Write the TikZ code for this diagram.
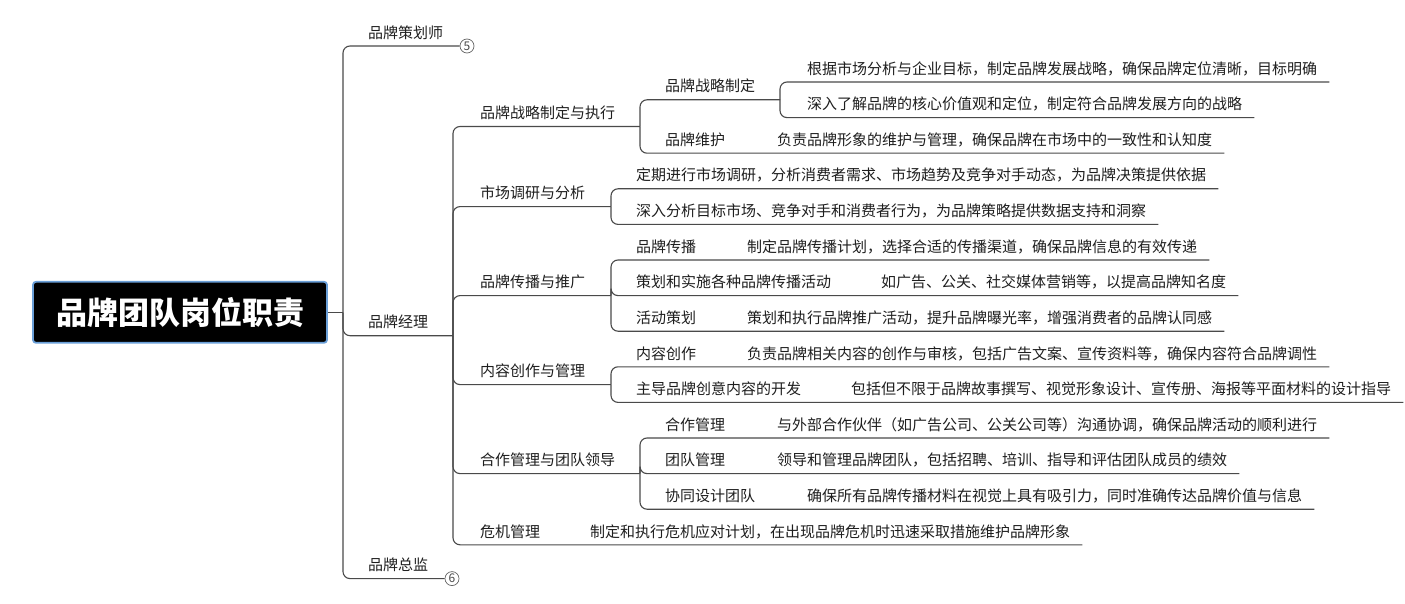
\documentclass[tikz,border=0pt]{standalone}
\usepackage{fontspec}
\setmainfont{Noto Sans CJK SC}
\definecolor{linec}{HTML}{4A4A4A}
\definecolor{txtc}{HTML}{1E1E1E}
\definecolor{rootb}{HTML}{6A9FD8}
\begin{document}
\begin{tikzpicture}[x=1pt,y=-1pt,
  topic/.style={anchor=south west, inner xsep=0pt, inner ysep=7.6pt, text depth=0pt,
    font=\fontsize{15}{18}\selectfont, text=txtc},
  br/.style={draw=linec, line width=1.1pt, rounded corners=7pt},
  numc/.style={circle, draw=linec!85, line width=0.7pt, minimum size=14pt, inner sep=0pt,
    font=\fontsize{12}{12}\selectfont, text=linec},
  rootbox/.style={fill=black, draw=rootb, line width=1.8pt, rounded corners=3pt,
    minimum width=294pt, minimum height=61pt, inner sep=0pt, text=white,
    font=\fontsize{31}{36}\selectfont\bfseries}]
\useasboundingbox (0,0) rectangle (1405,604);

% root
\node[rootbox] (R) at (180,312.3) {品牌团队岗位职责};

% junctions
\coordinate (j1) at (343,312.3);
\coordinate (j2) at (453,335.7);
\coordinate (j3) at (640,126.5);
\coordinate (j4) at (611,206.6);
\coordinate (j5) at (611,295.6);
\coordinate (j6) at (611,384.6);
\coordinate (j7) at (640,473.6);
\coordinate (j8) at (780,99.8);

% level 2
\node[topic] (A1) at (368,46) {品牌策划师};
\node[topic] (A2) at (368,335.7) {品牌经理};
\node[topic] (A3) at (368,578.6) {品牌总监};
\node[numc] (N5) at (467,46) {5};
\node[numc] (N6) at (452,578.6) {6};

% level 3
\node[topic] (B1) at (480,126.5) {品牌战略制定与执行};
\node[topic] (B2) at (480,206.6) {市场调研与分析};
\node[topic] (B3) at (480,295.6) {品牌传播与推广};
\node[topic] (B4) at (480,384.6) {内容创作与管理};
\node[topic] (B5) at (480,473.6) {合作管理与团队领导};
\node[topic] (B6) at (480,544.8) {危机管理};
\node[topic] (D12) at (590,544.8) {制定和执行危机应对计划，在出现品牌危机时迅速采取措施维护品牌形象};

% level 4
\node[topic] (C1) at (665,99.8) {品牌战略制定};
\node[topic] (D1) at (807,82) {根据市场分析与企业目标，制定品牌发展战略，确保品牌定位清晰，目标明确};
\node[topic] (D2) at (807,117.6) {深入了解品牌的核心价值观和定位，制定符合品牌发展方向的战略};
\node[topic] (C2) at (665,153.2) {品牌维护};
\node[topic] (D3) at (777,153.2) {负责品牌形象的维护与管理，确保品牌在市场中的一致性和认知度};

\node[topic] (C3) at (636,188.8) {定期进行市场调研，分析消费者需求、市场趋势及竞争对手动态，为品牌决策提供依据};
\node[topic] (C4) at (636,224.4) {深入分析目标市场、竞争对手和消费者行为，为品牌策略提供数据支持和洞察};

\node[topic] (C5) at (636,260) {品牌传播};
\node[topic] (D4) at (747,260) {制定品牌传播计划，选择合适的传播渠道，确保品牌信息的有效传递};
\node[topic] (C6) at (636,295.6) {策划和实施各种品牌传播活动};
\node[topic] (D5) at (881,295.6) {如广告、公关、社交媒体营销等，以提高品牌知名度};
\node[topic] (C7) at (636,331.2) {活动策划};
\node[topic] (D6) at (747,331.2) {策划和执行品牌推广活动，提升品牌曝光率，增强消费者的品牌认同感};

\node[topic] (C8) at (636,366.8) {内容创作};
\node[topic] (D7) at (747,366.8) {负责品牌相关内容的创作与审核，包括广告文案、宣传资料等，确保内容符合品牌调性};
\node[topic] (C9) at (636,402.4) {主导品牌创意内容的开发};
\node[topic] (D8) at (851,402.4) {包括但不限于品牌故事撰写、视觉形象设计、宣传册、海报等平面材料的设计指导};

\node[topic] (C10) at (665,438) {合作管理};
\node[topic] (D9) at (777,438) {与外部合作伙伴（如广告公司、公关公司等）沟通协调，确保品牌活动的顺利进行};
\node[topic] (C11) at (665,473.6) {团队管理};
\node[topic] (D10) at (777,473.6) {领导和管理品牌团队，包括招聘、培训、指导和评估团队成员的绩效};
\node[topic] (C12) at (665,509.2) {协同设计团队};
\node[topic] (D11) at (807,509.2) {确保所有品牌传播材料在视觉上具有吸引力，同时准确传达品牌价值与信息};

% connectors
\draw[br] (R.east) -- (j1);
\draw[br] (j1) |- (A1.south west) -- (N5.west);
\draw[br] (j1) |- (A2.south west) -- (j2);
\draw[br] (j1) |- (A3.south west) -- (N6.west);

\draw[br] (j2) |- (B1.south west) -- (j3);
\draw[br] (j2) |- (B2.south west) -- (j4);
\draw[br] (j2) |- (B3.south west) -- (j5);
\draw[br] (j2) |- (B4.south west) -- (j6);
\draw[br] (j2) |- (B5.south west) -- (j7);
\draw[br] (j2) |- (B6.south west) -- (D12.south west) -- ([xshift=12pt]D12.south east);

\draw[br] (j3) |- (C1.south west) -- (j8);
\draw[br] (j8) |- (D1.south west) -- ([xshift=12pt]D1.south east);
\draw[br] (j8) |- (D2.south west) -- ([xshift=12pt]D2.south east);
\draw[br] (j3) |- (C2.south west) -- (D3.south west) -- ([xshift=12pt]D3.south east);

\draw[br] (j4) |- (C3.south west) -- ([xshift=12pt]C3.south east);
\draw[br] (j4) |- (C4.south west) -- ([xshift=12pt]C4.south east);

\draw[br] (j5) |- (C5.south west) -- (D4.south west) -- ([xshift=12pt]D4.south east);
\draw[br] (j5) |- (C6.south west) -- (D5.south west) -- ([xshift=12pt]D5.south east);
\draw[br] (j5) |- (C7.south west) -- (D6.south west) -- ([xshift=12pt]D6.south east);

\draw[br] (j6) |- (C8.south west) -- (D7.south west) -- ([xshift=12pt]D7.south east);
\draw[br] (j6) |- (C9.south west) -- (D8.south west) -- ([xshift=12pt]D8.south east);

\draw[br] (j7) |- (C10.south west) -- (D9.south west) -- ([xshift=12pt]D9.south east);
\draw[br] (j7) |- (C11.south west) -- (D10.south west) -- ([xshift=12pt]D10.south east);
\draw[br] (j7) |- (C12.south west) -- (D11.south west) -- ([xshift=12pt]D11.south east);
\end{tikzpicture}
\end{document}
